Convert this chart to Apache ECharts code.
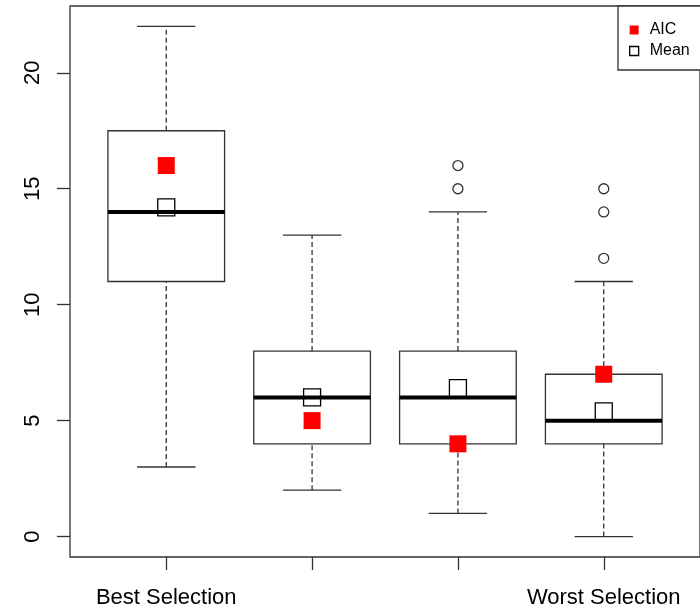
<!DOCTYPE html>
<html>
<head>
<meta charset="utf-8">
<script src="https://cdn.jsdelivr.net/npm/echarts@6/dist/echarts.min.js"></script>
<style>
  html, body { margin: 0; padding: 0; background: #fff; }
  #chart { width: 700px; height: 609px; }
</style>
</head>
<body>
<div id="chart"></div>
<script>
const categories = ['Best Selection', '', '', 'Worst Selection']
const whiskerLow = [3, 2, 1, 0]
const q1 = [11, 4, 4, 4]
const medians = [14, 6, 6, 5]
const q3 = [17.5, 8, 8, 7]
const whiskerHigh = [22, 13, 14, 11]
const outliers = [[3, 15], [3, 16], [4, 12], [4, 14], [4, 15]]
const aicValues = [16, 5, 4, 7]
const meanValues = [14.2, 6, 6.4, 5.4]
const yTicks = [0, 5, 10, 15, 20]
const xTicks = [1, 2, 3, 4]

const FONT = '"Liberation Sans", Arial, sans-serif'
const INK = '#333'

function renderBox(params, api) {
    const x = api.value(0)
    const half = api.size([0.8, 0])[0] / 2
    const capHalf = api.size([0.4, 0])[0] / 2
    const pLow = api.coord([x, api.value(1)])
    const pQ1 = api.coord([x, api.value(2)])
    const pMed = api.coord([x, api.value(3)])
    const pQ3 = api.coord([x, api.value(4)])
    const pHigh = api.coord([x, api.value(5)])
    const cx = pMed[0]
    const solid = { stroke: INK, lineWidth: 1.3, fill: null }
    const dashed = { stroke: INK, lineWidth: 1.3, lineDash: [5, 3], fill: null }
    return {
        type: 'group',
        children: [
            { type: 'line', shape: { x1: cx, y1: pQ3[1], x2: cx, y2: pHigh[1] }, style: dashed },
            { type: 'line', shape: { x1: cx, y1: pLow[1], x2: cx, y2: pQ1[1] }, style: dashed },
            { type: 'line', shape: { x1: cx - capHalf, y1: pHigh[1], x2: cx + capHalf, y2: pHigh[1] }, style: solid },
            { type: 'line', shape: { x1: cx - capHalf, y1: pLow[1], x2: cx + capHalf, y2: pLow[1] }, style: solid },
            { type: 'rect', shape: { x: cx - half, y: pQ3[1], width: half * 2, height: pQ1[1] - pQ3[1] }, style: { stroke: INK, lineWidth: 1.3, fill: '#fff' } },
            { type: 'line', shape: { x1: cx - half, y1: pMed[1], x2: cx + half, y2: pMed[1] }, style: { stroke: '#000', lineWidth: 4 } }
        ]
    }
}

const boxData = []
for (let i = 0; i < categories.length; i++) {
    boxData.push([i + 1, whiskerLow[i], q1[i], medians[i], q3[i], whiskerHigh[i]])
}

var dom = document.getElementById('chart')
var myChart = echarts.init(dom, null, { renderer: 'canvas' })

var option = {
    animation: false,
    backgroundColor: '#fff',
    textStyle: { fontFamily: FONT },
    grid: {
        left: 70, right: -1, top: 6, bottom: 52,
        show: true, borderColor: INK, borderWidth: 1.3, backgroundColor: 'transparent'
    },
    legend: {
        left: 618, top: 6,
        orient: 'vertical',
        padding: [16, 40, 11, 11],
        borderColor: INK, borderWidth: 1.3,
        backgroundColor: '#fff',
        itemWidth: 9, itemHeight: 9, itemGap: 5,
        textStyle: { fontSize: 16, color: '#000', lineHeight: 16, padding: [0, 0, 0, 6], fontFamily: FONT },
        data: [
            { name: 'AIC', icon: 'rect', itemStyle: { color: '#ff0000', borderWidth: 0, opacity: 1 } },
            { name: 'Mean', icon: 'rect', itemStyle: { color: '#fff', borderColor: '#000', borderWidth: 1.3, opacity: 1 } }
        ]
    },
    xAxis: {
        type: 'value', min: 0.34, max: 4.66,
        splitLine: { show: false },
        axisLine: { show: false, onZero: false },
        axisTick: { show: true, customValues: xTicks, length: 13, lineStyle: { color: INK, width: 1.3 } },
        axisLabel: {
            customValues: xTicks, margin: 30, fontSize: 22, color: '#000', fontFamily: FONT,
            formatter: function (v) { return categories[Math.round(v) - 1] || '' }
        }
    },
    yAxis: {
        type: 'value', min: -0.88, max: 22.88,
        splitLine: { show: false },
        axisLine: { show: false, onZero: false },
        axisTick: { show: true, customValues: yTicks, length: 13, lineStyle: { color: INK, width: 1.3 } },
        axisLabel: { customValues: yTicks, rotate: 90, margin: 26, fontSize: 22, color: '#000', fontFamily: FONT }
    },
    series: [
        {
            type: 'custom',
            name: 'box',
            renderItem: renderBox,
            data: boxData,
            encode: { x: 0, y: [1, 2, 3, 4, 5] },
            z: 2
        },
        {
            type: 'scatter',
            name: 'outliers',
            data: outliers,
            symbol: 'circle',
            symbolSize: 10,
            itemStyle: { color: 'transparent', borderColor: INK, borderWidth: 1.3, opacity: 1 },
            z: 3
        },
        {
            type: 'scatter',
            name: 'AIC',
            data: aicValues.map(function (v, i) { return [i + 1, v] }),
            symbol: 'rect',
            symbolSize: 17,
            itemStyle: { color: '#ff0000', opacity: 1 },
            z: 4
        },
        {
            type: 'scatter',
            name: 'Mean',
            data: meanValues.map(function (v, i) { return [i + 1, v] }),
            symbol: 'rect',
            symbolSize: 17,
            itemStyle: { color: 'transparent', borderColor: '#000', borderWidth: 1.3, opacity: 1 },
            z: 4
        }
    ]
}

option && myChart.setOption(option)
window.addEventListener('resize', myChart.resize)
</script>
</body>
</html>
